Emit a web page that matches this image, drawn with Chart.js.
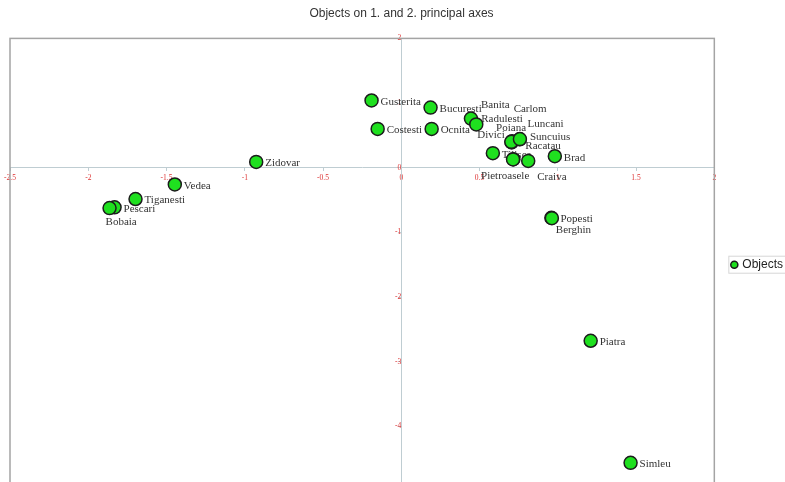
<!DOCTYPE html>
<html>
<head>
<meta charset="utf-8">
<script src="https://cdn.jsdelivr.net/npm/chart.js@4/dist/chart.umd.min.js"></script>
<style>
  html, body { margin: 0; padding: 0; overflow: hidden; background: #fff; }
  #wrap { width: 785px; height: 500px; position: relative; }
</style>
</head>
<body>
<div id="wrap"><canvas id="chart" width="785" height="500"></canvas></div>
<script>
// Object names and their scores on the 1st and 2nd principal axes
const objectNames = [
  'Gusterita', 'Bucuresti', 'Costesti', 'Ocnita', 'Banita', 'Radulesti',
  'Carlom', 'Poiana', 'Luncani', 'Divici', 'Suncuius', 'Racatau', 'Tilisca',
  'Pietroasele', 'Craiva', 'Brad', 'Zidovar', 'Vedea', 'Tiganesti',
  'Pescari', 'Bobaia', 'Popesti', 'Berghin', 'Piatra', 'Simleu'
];
const axis1Scores = [
  -0.190, 0.187, -0.151, 0.194, 0.445, 0.479,
  0.705, 0.708, 0.756, 0.703, 0.758, 0.716, 0.585,
  0.714, 0.811, 0.981, -0.927, -1.447, -1.698,
  -1.832, -1.864, 0.959, 0.962, 1.210, 1.465
];
const axis2Scores = [
  1.04, 0.93, 0.60, 0.60, 0.76, 0.67,
  0.39, 0.41, 0.44, 0.40, 0.443, 0.131, 0.225,
  0.128, 0.105, 0.178, 0.09, -0.259, -0.484,
  -0.613, -0.624, -0.774, -0.780, -2.677, -4.565
];
const axis1Range = [-2.5, 2];
const axis2Range = [-5, 2];
const axis1Step = 0.5;
const axis2Step = 1;
const chartTitle = 'Objects on 1. and 2. principal axes';
const seriesName = 'Objects';

// Where each name sits relative to its marker (px: dx to text start, dy to text middle)
const labelPlacement = {
  Banita: [10, -13], Radulesti: [5, -5], Carlom: [2, -33], Poiana: [-16, -13],
  Luncani: [8, -15], Divici: [-34, -7], Suncuius: [10, -2], Racatau: [12, -13],
  Pietroasele: [-32, 17], Craiva: [9, 16], Bobaia: [-4, 14], Berghin: [4, 12]
};
const defaultPlacement = [9, 1.5];

const points = objectNames.map((n, i) => ({ x: axis1Scores[i], y: axis2Scores[i] }));

const markerGreen = '#1fe01f';
const markerEdge = '#1c1c1c';
const axisColor = '#bfcdd2';
const tickColor = '#dd3333';

const plainNumber = v => String(Math.round(v * 10) / 10);

const objectLabels = {
  id: 'objectLabels',
  beforeDatasetsDraw(chart) {
    const ctx = chart.ctx;
    const meta = chart.getDatasetMeta(0);
    ctx.save();
    ctx.font = '11px "Liberation Serif"';
    ctx.fillStyle = '#333';
    ctx.textAlign = 'left';
    ctx.textBaseline = 'middle';
    meta.data.forEach((el, i) => {
      const name = objectNames[i];
      const [dx, dy] = labelPlacement[name] || defaultPlacement;
      ctx.fillText(name, el.x + dx, el.y + dy);
    });
    ctx.restore();
  }
};

const frame = {
  id: 'frame',
  afterDraw(chart) {
    const { ctx, chartArea: a } = chart;
    ctx.save();
    ctx.strokeStyle = '#a4a4a4';
    ctx.lineWidth = 1.5;
    ctx.strokeRect(a.left, a.top, a.right - a.left, a.bottom - a.top);
    const boxes = chart.legend && chart.legend.legendHitBoxes;
    if (boxes && boxes.length) {
      const b = boxes[0];
      ctx.strokeStyle = '#d6d6d6';
      ctx.lineWidth = 1;
      ctx.strokeRect(b.left - 3.5, b.top - 2.5, b.width + 12, b.height + 5);
    }
    ctx.restore();
  }
};

new Chart(document.getElementById('chart'), {
  type: 'scatter',
  data: {
    datasets: [{
      label: seriesName,
      data: points,
      pointRadius: 6.5,
      pointHoverRadius: 6.5,
      backgroundColor: markerGreen,
      borderColor: markerEdge,
      borderWidth: 1.5,
      pointStyle: 'circle'
    }]
  },
  options: {
    responsive: false,
    animation: false,
    layout: { padding: { left: 10, right: -8, top: 0, bottom: 9 } },
    plugins: {
      title: {
        display: true,
        text: chartTitle,
        color: '#333',
        font: { family: '"Liberation Sans", Arial, sans-serif', size: 12, weight: 'normal' },
        padding: { top: 6, bottom: 18 }
      },
      legend: {
        position: 'right',
        fullSize: false,
        labels: {
          usePointStyle: true,
          boxWidth: 4,
          boxHeight: 5,
          padding: 18,
          color: '#222',
          font: { family: '"Liberation Sans", Arial, sans-serif', size: 12 }
        }
      },
      tooltip: { enabled: false }
    },
    scales: {
      x: {
        type: 'linear',
        position: { y: 0 },
        min: axis1Range[0],
        max: axis1Range[1],
        ticks: {
          stepSize: axis1Step,
          color: tickColor,
          padding: 3,
          callback: plainNumber,
          font: { family: '"Liberation Serif"', size: 7.5 }
        },
        grid: { drawOnChartArea: false, drawTicks: true, tickLength: 3, color: axisColor },
        border: { color: axisColor, width: 1 }
      },
      y: {
        type: 'linear',
        position: { x: 0 },
        min: axis2Range[0],
        max: axis2Range[1],
        ticks: {
          stepSize: axis2Step,
          color: tickColor,
          padding: 4,
          callback: plainNumber,
          font: { family: '"Liberation Serif"', size: 7.5 }
        },
        grid: { drawOnChartArea: false, drawTicks: true, tickLength: 3, color: axisColor },
        border: { color: axisColor, width: 1 }
      }
    }
  },
  plugins: [objectLabels, frame]
});
</script>
</body>
</html>
